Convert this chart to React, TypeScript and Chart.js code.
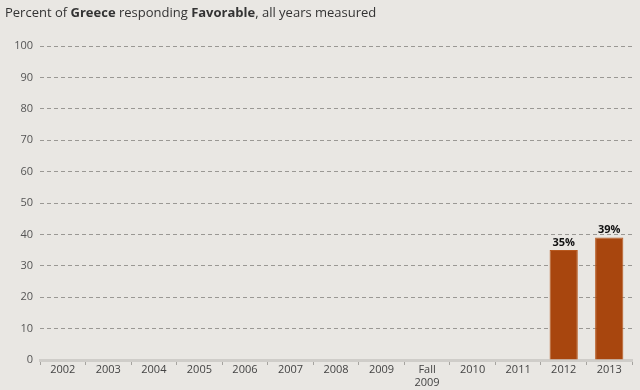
import React, { useEffect, useRef } from "react";
import { Chart, registerables } from "chart.js";

Chart.register(...registerables);

const categories: (string | string[])[] = [
  "2002", "2003", "2004", "2005", "2006", "2007", "2008", "2009",
  ["Fall", "2009"], "2010", "2011", "2012", "2013",
];
const favorable: (number | null)[] = [
  null, null, null, null, null, null, null, null, null, null, null, 35, 39,
];
const yTicks = [0, 10, 20, 30, 40, 50, 60, 70, 80, 90, 100];
const titleParts: { text: string; bold: boolean }[] = [
  { text: "Percent of ", bold: false },
  { text: "Greece", bold: true },
  { text: " responding ", bold: false },
  { text: "Favorable", bold: true },
  { text: ", all years measured", bold: false },
];

const FONT = "'Open Sans', 'DejaVu Sans', sans-serif";

const titlePlugin = {
  id: "richTitle",
  afterDraw(chart: any) {
    const ctx = chart.ctx;
    ctx.save();
    let x = 5;
    ctx.textBaseline = "middle";
    ctx.fillStyle = "#333";
    for (const p of titleParts) {
      ctx.font = `${p.bold ? "bold " : ""}13px ${FONT}`;
      ctx.fillText(p.text, x, 13);
      x += ctx.measureText(p.text).width;
    }
    ctx.restore();
  },
};

const labelPlugin = {
  id: "barLabels",
  afterDatasetsDraw(chart: any) {
    const ctx = chart.ctx;
    const meta = chart.getDatasetMeta(0);
    ctx.save();
    ctx.font = `bold 11px ${FONT}`;
    ctx.fillStyle = "#111";
    ctx.textAlign = "center";
    ctx.textBaseline = "bottom";
    meta.data.forEach((bar: any, i: number) => {
      const v = favorable[i];
      if (v == null) return;
      ctx.fillText(`${v}%`, bar.x, bar.y - 2);
    });
    ctx.restore();
  },
};

const bgPlugin = {
  id: "bg",
  beforeDraw(chart: any) {
    const ctx = chart.ctx;
    ctx.save();
    ctx.fillStyle = "#e9e7e3";
    ctx.fillRect(0, 0, chart.width, chart.height);
    ctx.restore();
  },
};

export default function App() {
  const ref = useRef<HTMLCanvasElement>(null);
  useEffect(() => {
    document.body.style.margin = "0";
    const chart = new Chart(ref.current!, {
      type: "bar",
      data: {
        labels: categories,
        datasets: [
          {
            data: favorable,
            backgroundColor: "#a8460e",
            borderColor: "#b8591f",
            borderWidth: 1,
            barPercentage: 0.62,
            categoryPercentage: 1,
          },
        ],
      },
      options: {
        animation: false,
        responsive: false,
        layout: { padding: { top: 46, right: 8, left: 0, bottom: 0 } },
        plugins: { legend: { display: false }, tooltip: { enabled: false }, title: { display: false } },
        scales: {
          x: {
            grid: {
              offset: true,
              drawOnChartArea: false,
              drawTicks: true,
              tickLength: 5,
              color: "#a5a39f",
            },
            border: { display: true, color: "#cfcdc9", width: 3 },
            ticks: {
              color: "#444",
              font: { family: FONT, size: 11 },
              padding: -2,
              maxRotation: 0,
              autoSkip: false,
            },
            afterFit(scale: any) {
              scale.height = 30;
            },
          },
          y: {
            min: 0,
            max: 100,
            afterBuildTicks(scale: any) {
              scale.ticks = yTicks.map((v) => ({ value: v }));
            },
            grid: {
              drawTicks: false,
              color: "#9a9894",
              lineWidth: 1,
            },
            border: { display: false, dash: [4, 3] },
            ticks: {
              color: "#555",
              font: { family: FONT, size: 11 },
              padding: 7,
            },
            afterFit(scale: any) {
              scale.width = 40;
            },
          },
        },
      },
      plugins: [bgPlugin, titlePlugin, labelPlugin],
    });
    return () => chart.destroy();
  }, []);
  return (
    <div style={{ position: "fixed", left: 0, top: 0, width: 640, height: 390 }}>
      <canvas ref={ref} width={640} height={390} style={{ width: 640, height: 390 }} />
    </div>
  );
}
